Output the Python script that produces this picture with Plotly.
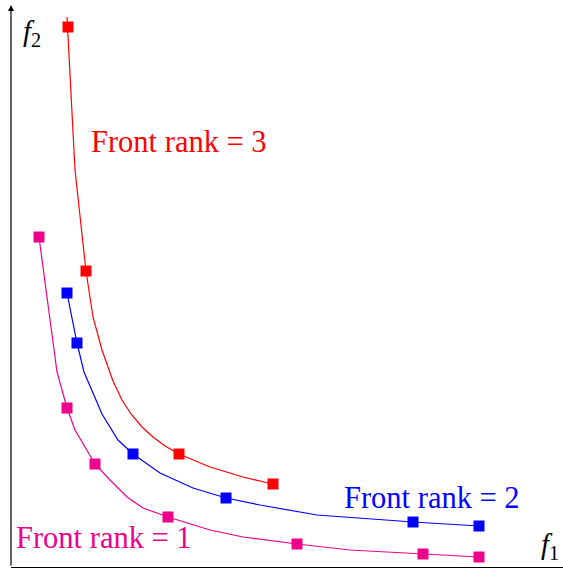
import plotly.graph_objects as go

# Front curves (polyline vertices) and the marked solutions on each front
rank3_line_x = [1.12, 1.28, 1.50, 1.64, 1.82, 2.04, 2.22, 2.40, 2.62, 2.84, 3.08, 3.36, 3.98, 4.64, 5.24]
rank3_line_y = [11.00, 7.94, 5.92, 5.00, 4.34, 3.72, 3.34, 3.06, 2.80, 2.60, 2.42, 2.26, 2.00, 1.80, 1.66]
rank3_pts_x = [1.14, 1.50, 3.36, 5.24]
rank3_pts_y = [10.80, 5.92, 2.26, 1.66]

rank2_line_x = [1.12, 1.32, 1.46, 1.82, 2.14, 2.44, 2.98, 3.64, 4.30, 4.98, 6.12, 7.12, 8.04, 9.36]
rank2_line_y = [5.48, 4.48, 3.90, 3.06, 2.54, 2.26, 1.88, 1.58, 1.38, 1.24, 1.04, 0.96, 0.90, 0.82]
rank2_pts_x = [1.12, 1.32, 2.44, 4.30, 8.04, 9.36]
rank2_pts_y = [5.48, 4.48, 2.26, 1.38, 0.90, 0.82]

rank1_line_x = [0.56, 0.92, 1.12, 1.28, 1.68, 1.98, 2.32, 2.64, 3.14, 3.98, 4.64, 5.72, 6.78, 8.24, 9.36]
rank1_line_y = [6.60, 3.90, 3.18, 2.74, 2.06, 1.74, 1.40, 1.18, 1.00, 0.74, 0.60, 0.46, 0.34, 0.26, 0.20]
rank1_pts_x = [0.56, 1.12, 1.68, 3.14, 5.72, 8.24, 9.36]
rank1_pts_y = [6.60, 3.18, 2.06, 1.00, 0.46, 0.26, 0.20]

RED = "#ff0000"
BLUE = "#0000ff"
PINK = "#ec008c"
FONT = "Liberation Serif"

fig = go.Figure()

for lx, ly, px, py, col in [
    (rank3_line_x, rank3_line_y, rank3_pts_x, rank3_pts_y, RED),
    (rank2_line_x, rank2_line_y, rank2_pts_x, rank2_pts_y, BLUE),
    (rank1_line_x, rank1_line_y, rank1_pts_x, rank1_pts_y, PINK),
]:
    fig.add_trace(go.Scatter(x=lx, y=ly, mode="lines",
                             line=dict(color=col, width=1.2),
                             hoverinfo="skip", showlegend=False))
    fig.add_trace(go.Scatter(x=px, y=py, mode="markers",
                             marker=dict(symbol="square", size=11, color=col,
                                         line=dict(width=0)),
                             showlegend=False))

X_MAX = 552 / 50
Y_MAX = 562 / 50

annotations = [
    dict(x=1.56, y=8.50, text="Front rank = 3", font=dict(color=RED, size=30.5)),
    dict(x=6.62, y=1.38, text="Front rank = 2", font=dict(color=BLUE, size=30.5)),
    dict(x=0.06, y=0.58, text="Front rank = 1", font=dict(color=PINK, size=30.5)),
    dict(x=0.20, y=10.68, text="<i>f</i><sub>2</sub>", font=dict(color="black", size=29)),
    dict(x=10.56, y=0.42, text="<i>f</i><sub>1</sub>", font=dict(color="black", size=29)),
]
for a in annotations:
    a.update(xref="x", yref="y", xanchor="left", yanchor="middle",
             showarrow=False)
    a["font"].update(family=FONT)

# vertical axis arrow
annotations.append(dict(x=0, y=Y_MAX, ax=0, ay=0, xref="x", yref="y",
                        axref="x", ayref="y", showarrow=True, arrowhead=2,
                        arrowsize=1, arrowwidth=1.2, arrowcolor="black",
                        text=""))

fig.update_layout(
    width=563, height=569,
    margin=dict(l=11, r=0, t=5, b=2),
    plot_bgcolor="white", paper_bgcolor="white",
    xaxis=dict(range=[0, X_MAX], showgrid=False, zeroline=False,
               showticklabels=False, ticks="", showline=True,
               linecolor="black", linewidth=1.2, fixedrange=True),
    yaxis=dict(range=[0, Y_MAX], showgrid=False, zeroline=False,
               showticklabels=False, ticks="", showline=False,
               fixedrange=True),
    annotations=annotations,
)

fig.write_html("out.html")
